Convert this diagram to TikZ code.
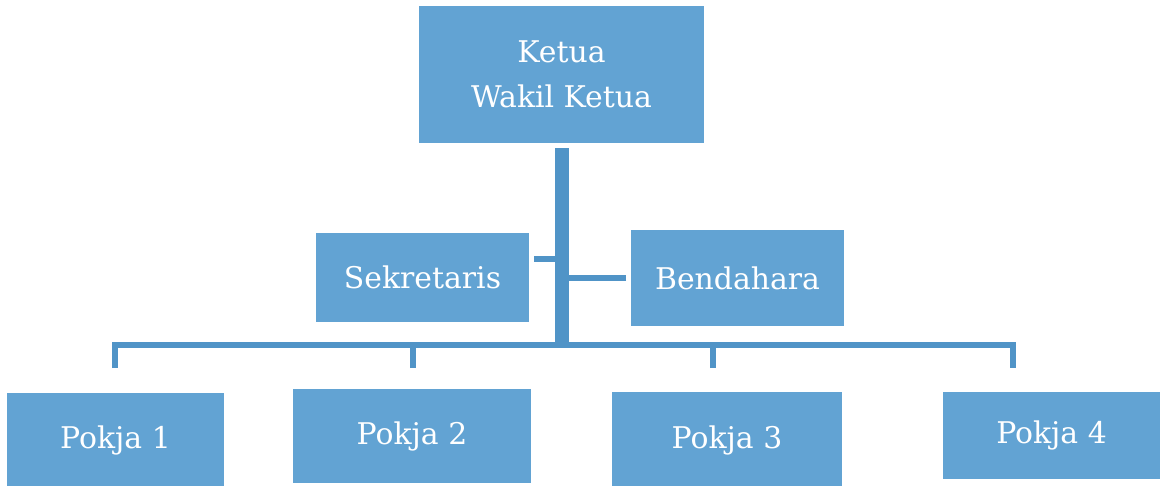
\documentclass[tikz,border=0pt]{standalone}
\usepackage{fontspec}
\setmainfont{DejaVu Serif}
\usetikzlibrary{calc}
\definecolor{boxblue}{RGB}{98,163,211}
\definecolor{lineblue}{RGB}{80,148,199}
\tikzset{
  unit/.style={fill=boxblue, text=white, inner sep=0pt, align=center,
    font=\fontsize{17}{25.6}\selectfont},
  link/.style={draw=lineblue, line width=0.12cm},
  spine/.style={draw=lineblue, line width=0.27cm},
}
\begin{document}
\begin{tikzpicture}[x=0.02cm, y=-0.02cm]
\useasboundingbox (0,0) rectangle (1165,485);
% pengurus inti
\node[unit, minimum width=5.7cm, minimum height=2.74cm] (ketua) at (561.5,74.5) {Ketua\\Wakil Ketua};
\node[unit, minimum width=4.26cm, minimum height=1.78cm] (sekretaris) at (422.5,277.5) {Sekretaris};
\node[unit, minimum width=4.26cm, minimum height=1.92cm] (bendahara) at (737.5,278) {Bendahara};
% pokja
\node[unit, minimum width=4.34cm, minimum height=1.88cm] (pokja1) at (115.5,440) {Pokja 1};
\node[unit, minimum width=4.76cm, minimum height=1.88cm] (pokja2) at (412,436) {Pokja 2};
\node[unit, minimum width=4.6cm, minimum height=1.92cm] (pokja3) at (727,440) {Pokja 3};
\node[unit, minimum width=4.34cm, minimum height=1.74cm] (pokja4) at (1051.5,435.5) {Pokja 4};
% garis
\coordinate (hub) at (562,345);
\coordinate (sek) at (534,259);
\coordinate (ben) at (626,278);
\foreach \x/\n in {115/1, 413/2, 713/3, 1013/4}
  \coordinate (drop\n) at (\x,368);
\draw[spine] ([yshift=-0.1cm]ketua.south -| hub) -- (hub);
\draw[link] (sek) -- (sek -| hub);
\draw[link] (ben) -- (ben -| hub);
\draw[link] (drop1) -- (drop1 |- hub) -- (drop4 |- hub) -- (drop4);
\draw[link] (drop2) -- (drop2 |- hub);
\draw[link] (drop3) -- (drop3 |- hub);
\end{tikzpicture}
\end{document}
